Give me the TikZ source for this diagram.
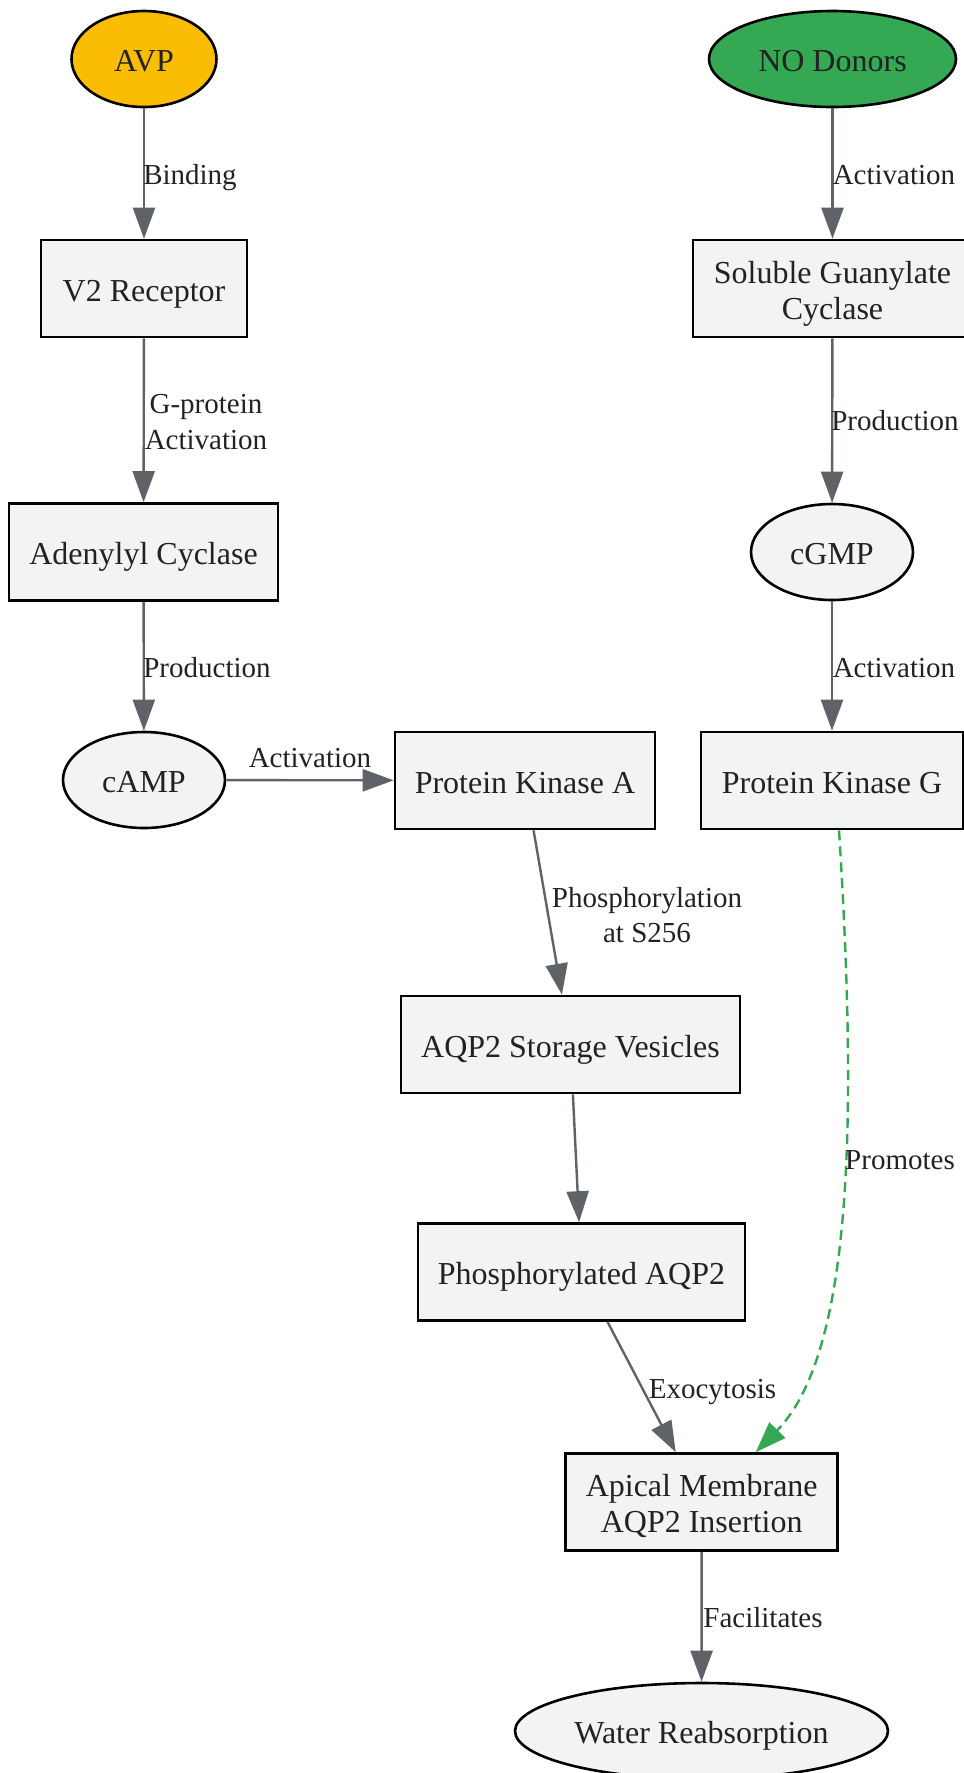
\documentclass[tikz,border=0pt]{standalone}
\usepackage{fontspec}
\setmainfont{Liberation Serif}
\usetikzlibrary{arrows.meta,shapes.geometric,calc}
\definecolor{edgegray}{HTML}{5F6368}
\definecolor{nodefill}{HTML}{F1F3F4}
\definecolor{avpfill}{HTML}{FBBC04}
\definecolor{nofill}{HTML}{34A853}
\definecolor{txt}{HTML}{222222}
\newcommand{\dn}[1]{\smash{#1}\rule[-4.1pt]{0pt}{33.6pt}}
\newcommand{\ldn}[1]{\smash{#1}\rule[-5.1pt]{0pt}{31.1pt}}
\begin{document}
\begin{tikzpicture}[x=1pt,y=-1pt,
  base/.style={draw=black,line width=2.6pt,fill=nodefill,text=txt,font=\fontsize{32}{36}\selectfont,align=center,inner sep=0pt},
  box/.style={base,rectangle,minimum height=97pt},
  oval/.style={base,ellipse,minimum height=96pt},
  edge/.style={draw=edgegray,line width=2.4pt,-{Triangle[length=31pt,width=22pt]}},
  promo/.style={draw=nofill,line width=2.4pt,dash pattern=on 10pt off 6pt,-{Triangle[length=31pt,width=22pt]}},
  lab/.style={text=txt,font=\fontsize{29}{35.5}\selectfont,align=center,inner sep=0pt},
]
\useasboundingbox (0,0) rectangle (964,1773);

% nodes
\node[oval,fill=avpfill,minimum width=145pt] (avp) at (144,59) {\dn{AVP}};
\node[oval,fill=nofill,minimum width=247pt] (no) at (832.5,59) {\dn{NO Donors}};
\node[box,minimum width=206pt] (v2) at (144,288.5) {\dn{V2 Receptor}};
\node[box,minimum width=279pt] (sgc) at (832.5,288.5) {\dn{Soluble Guanylate}\\\dn{Cyclase}};
\node[box,minimum width=269pt] (ac) at (143.5,552) {\dn{Adenylyl Cyclase}};
\node[oval,minimum width=162pt] (cgmp) at (832,552) {\dn{cGMP}};
\node[oval,minimum width=162pt] (camp) at (144,780) {\dn{cAMP}};
\node[box,minimum width=260pt] (pka) at (525,780.5) {\dn{Protein Kinase A}};
\node[box,minimum width=262pt] (pkg) at (832,780.5) {\dn{Protein Kinase G}};
\node[box,minimum width=339pt] (asv) at (570.5,1044.5) {\dn{AQP2 Storage Vesicles}};
\node[box,minimum width=327pt] (paqp) at (581.5,1272) {\dn{Phosphorylated AQP2}};
\node[box,minimum width=272pt] (apical) at (701.7,1502) {\dn{Apical Membrane}\\\dn{AQP2 Insertion}};
\node[oval,minimum width=373pt] (water) at (701.5,1731) {\dn{Water Reabsorption}};

% edges
\draw[edge] (avp) -- (v2);
\draw[edge] (v2) -- (ac);
\draw[edge] (ac) -- (camp);
\draw[edge] (camp) -- (pka);
\draw[edge] (pka) -- (asv);
\draw[edge] (asv) -- (paqp);
\draw[edge] (paqp) -- (apical);
\draw[edge] (apical) -- (water);
\draw[edge] (no) -- (sgc);
\draw[edge] (sgc) -- (cgmp);
\draw[edge] (cgmp) -- (pkg);
\coordinate (gs) at ($(pkg.south)+(7,0)$);
\coordinate (ge) at ($(apical.north)+(54,0)$);
\draw[promo] (gs) .. controls (856,1100) and (856,1350) .. (ge);

% edge labels
\node[lab] (l1) at (190,174) {\ldn{Binding}};
\node[lab] (l2) at (206,421) {\ldn{G-protein}\\\ldn{Activation}};
\node[lab] (l3) at (207,667) {\ldn{Production}};
\node[lab] (l4) at (310,757) {\ldn{Activation}};
\node[lab] (l5) at (647,914.5) {\ldn{Phosphorylation}\\\ldn{at S256}};
\node[lab] (l6) at (712.5,1388) {\ldn{Exocytosis}};
\node[lab] (l7) at (900,1159) {\ldn{Promotes}};
\node[lab] (l8) at (763,1617) {\ldn{Facilitates}};
\node[lab] (l9) at (894,174) {\ldn{Activation}};
\node[lab] (l10) at (895,420.5) {\ldn{Production}};
\node[lab] (l11) at (894,667) {\ldn{Activation}};
\end{tikzpicture}
\end{document}
